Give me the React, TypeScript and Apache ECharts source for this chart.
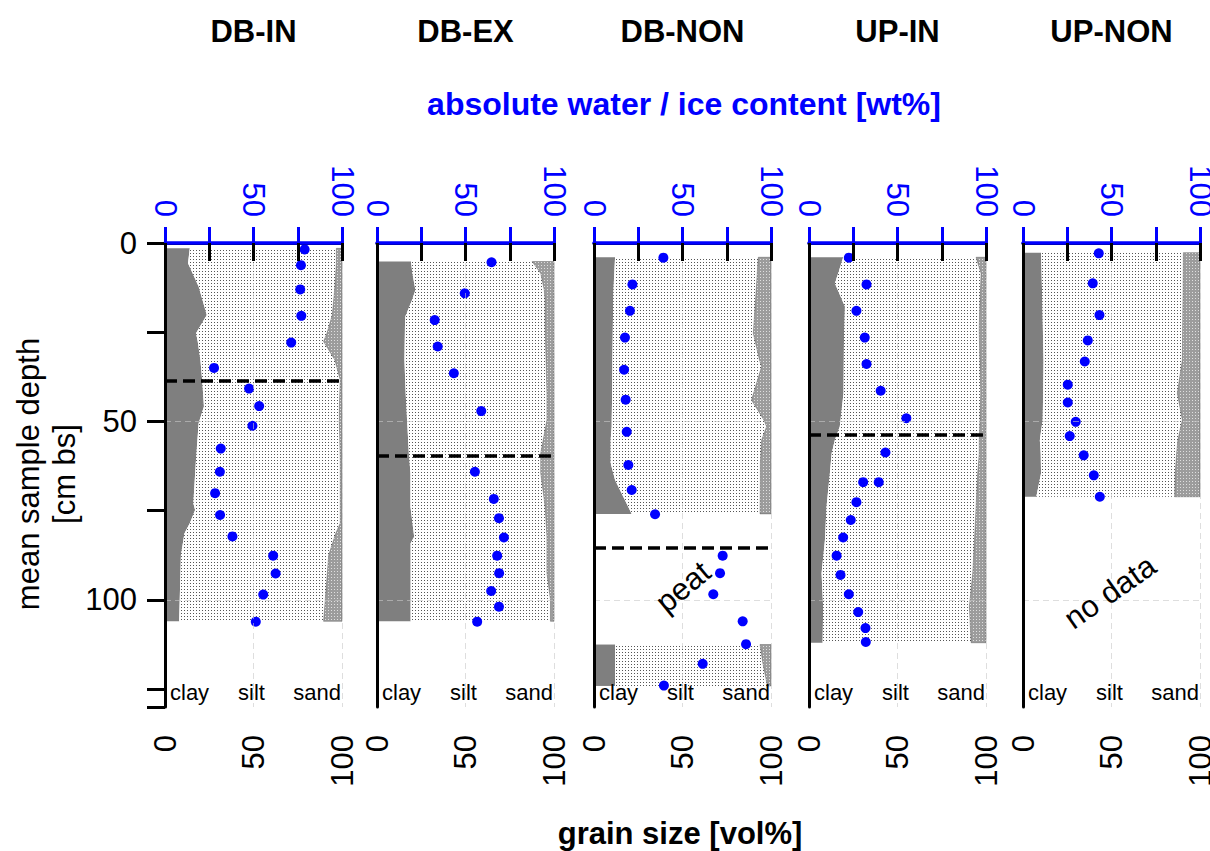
import React, { useEffect, useRef } from "react";
import * as echarts from "echarts";

const FONT = "'Liberation Sans', Arial, Helvetica, sans-serif";

const panelNames = ["DB-IN", "DB-EX", "DB-NON", "UP-IN", "UP-NON"];
const axisTicks = [0, 50, 100];

// grain size profiles: depth [cm bs], clay [vol%], sand [vol%]; silt = remainder
const dbInDepth = [1.5, 5.7, 12.2, 20.2, 25.3, 27.6, 32.8, 38.4, 45.8, 50.5, 60.8, 72.9, 74.8, 78.5, 81.3, 87.4, 106];
const dbInClay = [14, 13, 19, 23.6, 17.5, 18.5, 20, 21, 22, 19, 17.5, 16, 17, 14, 11, 9, 8];
const dbInSand = [3.2, 3.2, 4, 5.5, 8.5, 10.4, 4, 1, 1.5, 1.5, 1, 1, 1, 1, 3.5, 7.5, 10.4];

const dbExDepth = [5.2, 8.5, 13.2, 16, 20.6, 23.4, 32.8, 42.1, 49.6, 58.9, 64.5, 73.9, 82.3, 84.1, 92.5, 100, 106];
const dbExClay = [19.2, 20, 21.7, 19.8, 16, 15.8, 15.5, 16.2, 17, 18, 18.9, 18.9, 21, 19, 19, 19, 19];
const dbExSand = [12.3, 7.5, 5.5, 5, 5, 5, 4.5, 4, 4, 7.5, 7.5, 5, 4, 4, 4, 2, 2];

const dbNonDepth = [4, 14.1, 25.3, 32.8, 34.6, 44, 49.6, 51.4, 55.2, 61.7, 66.4, 75.9];
const dbNonClay = [11.9, 10.9, 10.6, 10.4, 10.4, 10.2, 10, 10, 9.4, 9.4, 11.9, 21.3];
const dbNonSand = [7.2, 8.5, 10, 6.5, 5.3, 11, 4, 2.5, 5.3, 6, 6, 6.2];
const dbNonLowerDepth = [112.5, 118, 124.1];
const dbNonLowerClay = [11.9, 11.9, 11.9];
const dbNonLowerSand = [6.2, 4.5, 2];

const upInDepth = [4, 8.5, 11.3, 17.8, 23.4, 25.3, 42.1, 51.4, 55.2, 58.9, 64.5, 73.9, 83.2, 92.5, 101.9, 112];
const upInClay = [19.3, 16.5, 14.6, 20.3, 20, 19.8, 19.5, 17.4, 14.6, 12.8, 11.8, 9.9, 9, 7.1, 8, 7.7];
const upInSand = [5.6, 2.8, 3, 3.5, 3.8, 3.8, 3, 3.5, 3.8, 3.8, 4.7, 5.6, 6.5, 7.5, 9.4, 8.4];

const upNonDepth = [2.7, 14.1, 32.8, 42.1, 49.6, 55.2, 58.9, 64.5, 71.1];
const upNonClay = [10.2, 10.8, 11.6, 11.4, 11.1, 9.5, 10, 10.2, 7.5];
const upNonSand = [9.4, 9.6, 10, 12.8, 10, 12.5, 13.2, 14, 14.3];

// absolute water / ice content [wt%] vs depth
const dbInWaterDepth = [1.8, 6.2, 13.0, 20.4, 27.9, 35.0, 40.8, 45.7, 51.2, 57.6, 64.1, 70.1, 76.2, 82.2, 87.6, 92.6, 98.5, 106.1];
const dbInWater = [78.9, 76.8, 76.4, 77.0, 71.3, 27.7, 47.5, 53.2, 49.4, 31.5, 31.0, 28.3, 31.1, 38.1, 61.1, 62.5, 55.5, 51.3];

const dbExWaterDepth = [5.4, 14.1, 21.6, 29.0, 36.5, 47.1, 64.1, 71.7, 77.1, 82.5, 87.6, 92.5, 97.5, 101.9, 106.1];
const dbExWater = [64.7, 49.6, 32.6, 34.3, 43.4, 58.9, 55.3, 66.0, 68.9, 71.7, 67.9, 69.0, 64.5, 68.9, 56.6];

const dbNonWaterDepth = [4.1, 11.6, 19.0, 26.5, 35.5, 43.9, 52.9, 62.2, 69.2, 76.0, 87.6, 92.5, 98.4, 106.0, 112.4, 117.9, 124.0];
const dbNonWater = [39.2, 21.7, 20.3, 17.5, 17.0, 17.9, 18.5, 19.4, 21.3, 34.5, 72.7, 71.2, 67.4, 84.0, 85.9, 61.4, 39.5];

const upInWaterDepth = [4.1, 11.6, 19.0, 26.5, 33.9, 41.4, 49.1, 58.7, 67.0, 67.0, 72.6, 77.6, 82.5, 87.6, 93.0, 98.4, 103.4, 107.9, 111.8];
const upInWater = [22.5, 32.5, 26.8, 31.5, 32.5, 40.5, 55.0, 43.2, 30.6, 39.4, 26.8, 23.6, 19.3, 15.6, 17.8, 22.5, 27.8, 31.9, 32.1];

const upNonWaterDepth = [2.9, 11.3, 20.2, 27.3, 33.2, 39.7, 44.7, 50.1, 54.1, 59.5, 65.1, 71.1];
const upNonWater = [42.8, 39.4, 43.2, 36.6, 34.9, 25.3, 25.3, 29.8, 26.4, 34.3, 40.0, 43.4];

// dashed line depth per panel (null = none)
const dashedDepth = [38.5, 59.6, 85.5, 53.6, null];

type Seg = { panel: number; depth: number[]; clay: number[]; sand: number[] };
const segments: Seg[] = [
  { panel: 0, depth: dbInDepth, clay: dbInClay, sand: dbInSand },
  { panel: 1, depth: dbExDepth, clay: dbExClay, sand: dbExSand },
  { panel: 2, depth: dbNonDepth, clay: dbNonClay, sand: dbNonSand },
  { panel: 2, depth: dbNonLowerDepth, clay: dbNonLowerClay, sand: dbNonLowerSand },
  { panel: 3, depth: upInDepth, clay: upInClay, sand: upInSand },
  { panel: 4, depth: upNonDepth, clay: upNonClay, sand: upNonSand },
];
const waterDepths = [dbInWaterDepth, dbExWaterDepth, dbNonWaterDepth, upInWaterDepth, upNonWaterDepth];
const waterValues = [dbInWater, dbExWater, dbNonWater, upInWater, upNonWater];

// layout
const PANEL_LEFT = [165, 377, 594, 809, 1023];
const PANEL_W = 177;
const GRID_TOP = 243;
const GRID_H = 464;

function dotPattern(bg: string, dot: string, size: number) {
  const c = document.createElement("canvas");
  c.width = size;
  c.height = size;
  const ctx = c.getContext("2d")!;
  ctx.fillStyle = bg;
  ctx.fillRect(0, 0, size, size);
  ctx.fillStyle = dot;
  ctx.fillRect(1, 1, 1, 1);
  return { image: c.toDataURL(), repeat: "repeat", imageWidth: size, imageHeight: size } as any;
}

const fmt = (v: number) => (axisTicks.indexOf(v) >= 0 ? String(v) : "");

export default function App() {
  const ref = useRef<HTMLDivElement>(null);
  useEffect(() => {
    if (!ref.current) return;
    const chart = echarts.init(ref.current, undefined, { renderer: "svg" });
    const siltFill = dotPattern("#ffffff", "#555555", 3);
    const sandFill = dotPattern("#9c9c9c", "#e0e0e0", 3);
    const fills: any[] = ["#7f7f7f", siltFill, sandFill];

    const grids: any[] = [];
    const xAxes: any[] = [];
    const yAxes: any[] = [];
    const series: any[] = [];
    const graphics: any[] = [];

    for (let i = 0; i < 5; i++) {
      grids.push({ left: PANEL_LEFT[i], top: GRID_TOP, width: PANEL_W, height: GRID_H, outerBoundsMode: "none", containLabel: false });
      xAxes.push({
        gridIndex: i, type: "value", position: "bottom", min: 0, max: 100, interval: 25, z: 5,
        axisLine: { show: true, lineStyle: { color: "#000", width: 3 } },
        axisTick: { show: true, length: 18, lineStyle: { color: "#000", width: 3 } },
        axisLabel: { rotate: 90, fontSize: 31, color: "#000", margin: 28, fontFamily: FONT, formatter: fmt },
        splitLine: { show: false },
      });
      xAxes.push({
        gridIndex: i, type: "value", position: "top", min: 0, max: 100, interval: 25, z: 5,
        axisLine: { show: true, lineStyle: { color: "#0000ff", width: 3.5 } },
        axisTick: { show: true, length: 16, lineStyle: { color: "#0000ff", width: 3 } },
        axisLabel: { rotate: 90, fontSize: 31, color: "#0000ff", margin: 26, fontFamily: FONT, formatter: fmt },
        splitLine: { show: false },
      });
      yAxes.push({
        gridIndex: i, type: "value", inverse: true, min: 0, max: 130, interval: 25, z: 5,
        axisLine: { show: true, onZero: false, lineStyle: { color: "#000", width: 3 } },
        axisTick: { show: i === 0, length: 18, lineStyle: { color: "#000", width: 3 } },
        axisLabel: { show: i === 0, fontSize: 31, color: "#000", margin: 28, fontFamily: FONT, formatter: fmt },
        splitLine: { show: false },
      });

      const segIdx: number[][] = [];
      segments.forEach((s, k) => {
        if (s.panel === i) for (let l = 0; l < 3; l++) segIdx.push([k, l]);
      });
      series.push({
        type: "custom",
        xAxisIndex: 2 * i,
        yAxisIndex: i,
        z: 2,
        silent: true,
        data: segIdx,
        renderItem: (params: any, api: any) => {
          const s = segments[api.value(0)];
          const layer = api.value(1);
          const n = s.depth.length;
          const d0 = s.depth[0];
          const dn = s.depth[n - 1];
          const clayB = s.depth.map((d, k) => [s.clay[k], d]);
          const sandB = s.depth.map((d, k) => [100 - s.sand[k], d]);
          let pts: number[][];
          if (layer === 0) pts = [[0, d0], ...clayB, [0, dn]];
          else if (layer === 1) pts = [...clayB, ...sandB.slice().reverse()];
          else pts = [...sandB, [100, dn], [100, d0]];
          return {
            type: "polygon",
            shape: { points: pts.map((p) => api.coord(p)) },
            style: {
              fill: fills[layer],
              stroke: layer === 2 ? "rgba(60,60,60,0.6)" : "none",
              lineWidth: layer === 2 ? 0.6 : 0,
            },
          };
        },
      });

      const mlData: any[] = [
        { xAxis: 50 }, { xAxis: 100 }, { yAxis: 50 }, { yAxis: 100 },
      ];
      if (dashedDepth[i] != null) {
        mlData.push({ yAxis: dashedDepth[i], lineStyle: { color: "#000", width: 3.5, type: [12, 6], opacity: 1 } });
      }
      series.push({
        type: "scatter",
        xAxisIndex: 2 * i + 1,
        yAxisIndex: i,
        z: 4,
        symbol: "circle",
        symbolSize: 10,
        itemStyle: { color: "#0000ff", opacity: 1 },
        data: waterDepths[i].map((d, k) => [waterValues[i][k], d]),
        markLine: {
          silent: true,
          symbol: ["none", "none"],
          label: { show: false },
          lineStyle: { color: "rgba(200,200,200,0.6)", width: 1, type: [6, 4] },
          data: mlData,
        },
      });

      const cx = PANEL_LEFT[i] + PANEL_W / 2;
      graphics.push({
        type: "text", x: cx, y: 31,
        style: { text: panelNames[i], fill: "#000", fontSize: 31, fontWeight: "bold", fontFamily: FONT, align: "center", verticalAlign: "middle", textAlign: "center", textVerticalAlign: "middle" },
      });
      const labs = [
        { t: "clay", x: PANEL_LEFT[i] + 5, a: "left" },
        { t: "silt", x: PANEL_LEFT[i] + 86.5, a: "center" },
        { t: "sand", x: PANEL_LEFT[i] + 176, a: "right" },
      ];
      labs.forEach((l) =>
        graphics.push({
          type: "text", x: l.x, y: 692, z: 10,
          style: { text: l.t, fill: "#000", fontSize: 22, fontFamily: FONT, align: l.a, verticalAlign: "middle", textAlign: l.a, textVerticalAlign: "middle" },
        })
      );
    }

    graphics.push({
      type: "text", x: 684, y: 104,
      style: { text: "absolute water / ice content [wt%]", fill: "#0000ff", fontSize: 32, fontWeight: "bold", fontFamily: FONT, align: "center", verticalAlign: "middle", textAlign: "center", textVerticalAlign: "middle" },
    });
    graphics.push({
      type: "text", x: 680, y: 833,
      style: { text: "grain size [vol%]", fill: "#000", fontSize: 31, fontWeight: "bold", fontFamily: FONT, align: "center", verticalAlign: "middle", textAlign: "center", textVerticalAlign: "middle" },
    });
    graphics.push({
      type: "text", x: 46, y: 474, rotation: Math.PI / 2,
      style: { text: "mean sample depth\n[cm bs]", fill: "#000", fontSize: 31, lineHeight: 36, fontFamily: FONT, align: "center", verticalAlign: "middle", textAlign: "center", textVerticalAlign: "middle" },
    });
    graphics.push({
      type: "text", x: 683, y: 587, rotation: 0.69, z: 10,
      style: { text: "peat", fill: "#000", fontSize: 31, fontFamily: FONT, align: "center", verticalAlign: "middle", textAlign: "center", textVerticalAlign: "middle" },
    });
    graphics.push({
      type: "text", x: 1110, y: 592, rotation: 0.61, z: 10,
      style: { text: "no data", fill: "#000", fontSize: 31, fontFamily: FONT, align: "center", verticalAlign: "middle", textAlign: "center", textVerticalAlign: "middle" },
    });

    chart.setOption({
      animation: false,
      backgroundColor: "#ffffff",
      textStyle: { fontFamily: FONT },
      grid: grids,
      xAxis: xAxes,
      yAxis: yAxes,
      series,
      graphic: graphics,
    });
    return () => chart.dispose();
  }, []);
  return <div ref={ref} style={{ position: "fixed", left: 0, top: 0, width: 1210, height: 851 }} />;
}
